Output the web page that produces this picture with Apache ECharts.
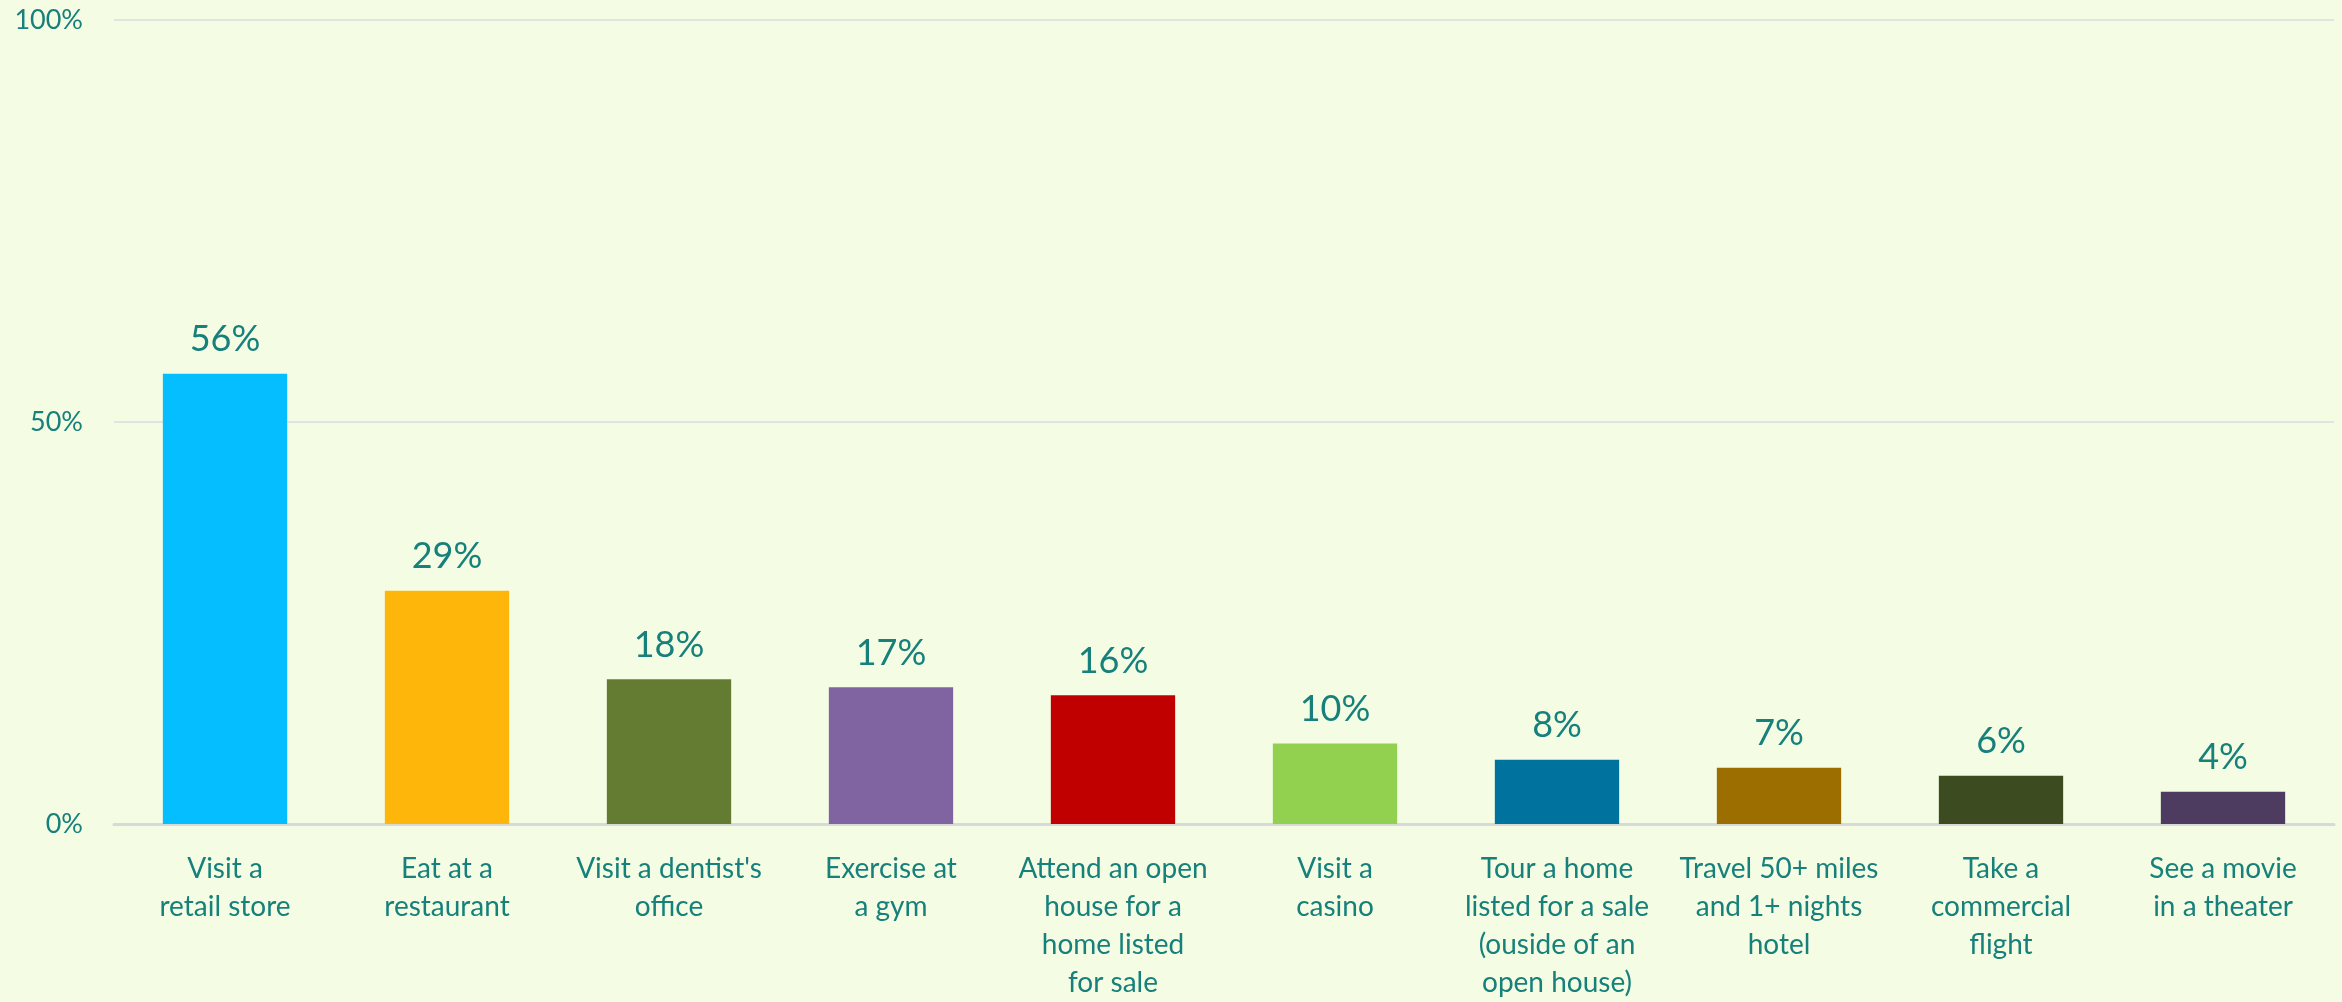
<!DOCTYPE html>
<html>
<head>
<meta charset="utf-8">
<script src="https://cdn.jsdelivr.net/npm/echarts@6/dist/echarts.min.js"></script>
<style>
  html, body { margin: 0; padding: 0; background: #F4FDE4; }
  #chart { width: 2342px; height: 1002px; }
</style>
</head>
<body>
<div id="chart"></div>
<script>
// Share of respondents comfortable doing each activity
const categories = [
  'Visit a\nretail store',
  'Eat at a\nrestaurant',
  "Visit a dentist's\noffice",
  'Exercise at\na gym',
  'Attend an open\nhouse for a\nhome listed\nfor sale',
  'Visit a\ncasino',
  'Tour a home\nlisted for a sale\n(ouside of an\nopen house)',
  'Travel 50+ miles\nand 1+ nights\nhotel',
  'Take a\ncommercial\nflight',
  'See a movie\nin a theater'
];
const values = [56, 29, 18, 17, 16, 10, 8, 7, 6, 4];
const yTicks = [0, 50, 100];

const barColors = [
  '#05BEFF', '#FFB60A', '#647C32', '#8064A2', '#C00000',
  '#92D050', '#00729E', '#9C6E00', '#3C4B20', '#4D3B60'
];

const textColor = '#17807A';
const fontFamily = 'Lato, "Open Sans", sans-serif';

const chart = echarts.init(document.getElementById('chart'), null, { renderer: 'canvas' });

chart.setOption({
  backgroundColor: '#F4FDE4',
  animation: false,
  grid: { left: 114, right: 8, top: 20, bottom: 171, containLabel: false },
  xAxis: {
    type: 'category',
    data: categories,
    axisLine: { show: true, lineStyle: { color: '#D9D9D9', width: 3 } },
    axisTick: { show: false },
    axisLabel: {
      interval: 0,
      margin: 26,
      color: textColor,
      fontFamily: fontFamily,
      fontSize: 28,
      lineHeight: 38,
      align: 'center',
      verticalAlign: 'top'
    }
  },
  yAxis: {
    type: 'value',
    min: yTicks[0],
    max: yTicks[yTicks.length - 1],
    interval: yTicks[1] - yTicks[0],
    axisLine: { show: false },
    axisTick: { show: false },
    splitLine: { show: true, lineStyle: { color: '#E3E3E3', width: 2 } },
    axisLabel: {
      margin: 31,
      color: textColor,
      fontFamily: fontFamily,
      fontSize: 27,
      formatter: v => v + '%'
    }
  },
  series: [{
    type: 'bar',
    barWidth: '56%',
    data: values.map((v, i) => ({ value: v, itemStyle: { color: barColors[i] } })),
    label: {
      show: true,
      position: 'top',
      distance: 16,
      color: textColor,
      fontFamily: fontFamily,
      fontSize: 36,
      lineHeight: 36,
      formatter: p => p.value + '%'
    }
  }]
});
</script>
</body>
</html>
